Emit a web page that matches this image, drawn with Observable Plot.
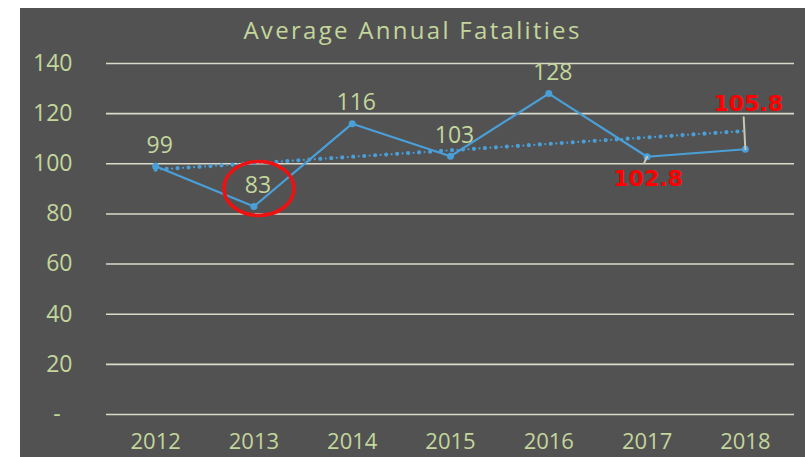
<!DOCTYPE html>
<html>
<head>
<meta charset="utf-8">
<script src="https://cdn.jsdelivr.net/npm/d3@7"></script>
<script src="https://cdn.jsdelivr.net/npm/@observablehq/plot@0.6"></script>
<style>
  html, body { margin: 0; padding: 0; background: #ffffff; }
  #wrap { position: absolute; left: 20px; top: 8px; width: 785px; height: 449px; background: #525252; overflow: hidden; }
  #title { position: absolute; left: 0; top: 0; width: 100%; height: 37px; text-align: center;
           font-family: "Open Sans", sans-serif; font-size: 24px; letter-spacing: 2.3px; line-height: 44px; color: #c3d69b; }
  #chart { position: absolute; left: 0; top: 37px; }
</style>
</head>
<body>
<div id="wrap">
  <div id="title">Average Annual Fatalities</div>
  <div id="chart"></div>
</div>
<script>
const years = [2012, 2013, 2014, 2015, 2016, 2017, 2018];
const fatalities = [99, 83, 116, 103, 128, 102.8, 105.8];
const labels = ["99", "83", "116", "103", "128", "102.8", "105.8"];
const yTicks = [0, 20, 40, 60, 80, 100, 120, 140];
const highlighted = [2017, 2018];
const circled = [2013];

const data = years.map((year, i) => ({year, value: fatalities[i], label: labels[i]}));
const green = data.filter(d => !highlighted.includes(d.year));
const red2017 = data.filter(d => d.year === 2017);
const red2018 = data.filter(d => d.year === 2018);
const circ = data.filter(d => circled.includes(d.year));

const lineColor = "#4a9fd8";
const labelColor = "#c3d69b";
const font = "Open Sans, sans-serif";

const ellipse = {
  draw(ctx) {
    const rx = 35, ry = 27, k = 0.5523;
    ctx.moveTo(rx, 0);
    ctx.bezierCurveTo(rx, ry * k, rx * k, ry, 0, ry);
    ctx.bezierCurveTo(-rx * k, ry, -rx, ry * k, -rx, 0);
    ctx.bezierCurveTo(-rx, -ry * k, -rx * k, -ry, 0, -ry);
    ctx.bezierCurveTo(rx * k, -ry, rx, -ry * k, rx, 0);
    ctx.closePath();
  }
};
const leader = { draw(ctx, l) { ctx.moveTo(0, 0); ctx.lineTo(0, -l); } };

const chart = Plot.plot({
  width: 785,
  height: 412,
  marginTop: 18,
  marginBottom: 43,
  marginLeft: 86,
  marginRight: 11,
  style: { background: "transparent", fontFamily: font, fontSize: "22px", color: labelColor },
  x: { type: "linear", domain: [2011.5, 2018.5], ticks: years, tickFormat: d => String(d), tickSize: 0, tickPadding: 19, label: null },
  y: { domain: [0, 140], ticks: yTicks, tickFormat: d => d === 0 ? "-\u00a0\u00a0" : String(d), tickSize: 0, tickPadding: 34, label: null },
  marks: [
    Plot.ruleY(yTicks, { stroke: "#dadacb", strokeWidth: 1.6 }),
    Plot.axisX({ ticks: years, tickFormat: d => String(d), tickSize: 0, tickPadding: 19, fill: labelColor, fontSize: 22, label: null }),
    Plot.axisY({ ticks: yTicks, tickFormat: d => d === 0 ? "-\u00a0\u00a0" : String(d), tickSize: 0, tickPadding: 34, fill: labelColor, fontSize: 23, label: null }),
    Plot.linearRegressionY(data, { x: "year", y: "value", ci: 0, stroke: lineColor, strokeWidth: 4.2, strokeDasharray: "0 11", strokeLinecap: "round" }),
    Plot.linearRegressionY(data, { x: "year", y: "value", ci: 0, stroke: lineColor, strokeWidth: 2.2, strokeDasharray: "0 11", strokeDashoffset: 5.5, strokeLinecap: "round" }),
    Plot.line(data, { x: "year", y: "value", stroke: lineColor, strokeWidth: 2.2 }),
    Plot.dot(data, { x: "year", y: "value", r: 3.5, fill: lineColor }),
    Plot.vector(red2018, { x: "year", y: "value", length: 32, rotate: -3, anchor: "start", shape: leader, stroke: "#c8c8b4", strokeWidth: 2 }),
    Plot.vector(red2017, { x: "year", y: "value", length: 7, rotate: 205, anchor: "start", shape: leader, stroke: "#c8c8b4", strokeWidth: 2 }),
    Plot.text(green, { x: "year", y: "value", text: "label", dx: 4, dy: -21, fill: labelColor, fontSize: 23 }),
    Plot.text(red2017, { x: "year", y: "value", text: "label", dx: 1, dy: 22, fill: "#ff0000", fontSize: 22, fontWeight: "bold", fontFamily: "DejaVu Sans, sans-serif" }),
    Plot.text(red2018, { x: "year", y: "value", text: "label", dx: 3, dy: -45, fill: "#ff0000", fontSize: 22, fontWeight: "bold", fontFamily: "DejaVu Sans, sans-serif" }),
    Plot.dot(circ, { x: "year", y: "value", symbol: ellipse, dx: 5, dy: -18, fill: "none", stroke: "#ee1111", strokeWidth: 3.5 })
  ]
});
document.getElementById("chart").appendChild(chart);
</script>
</body>
</html>
